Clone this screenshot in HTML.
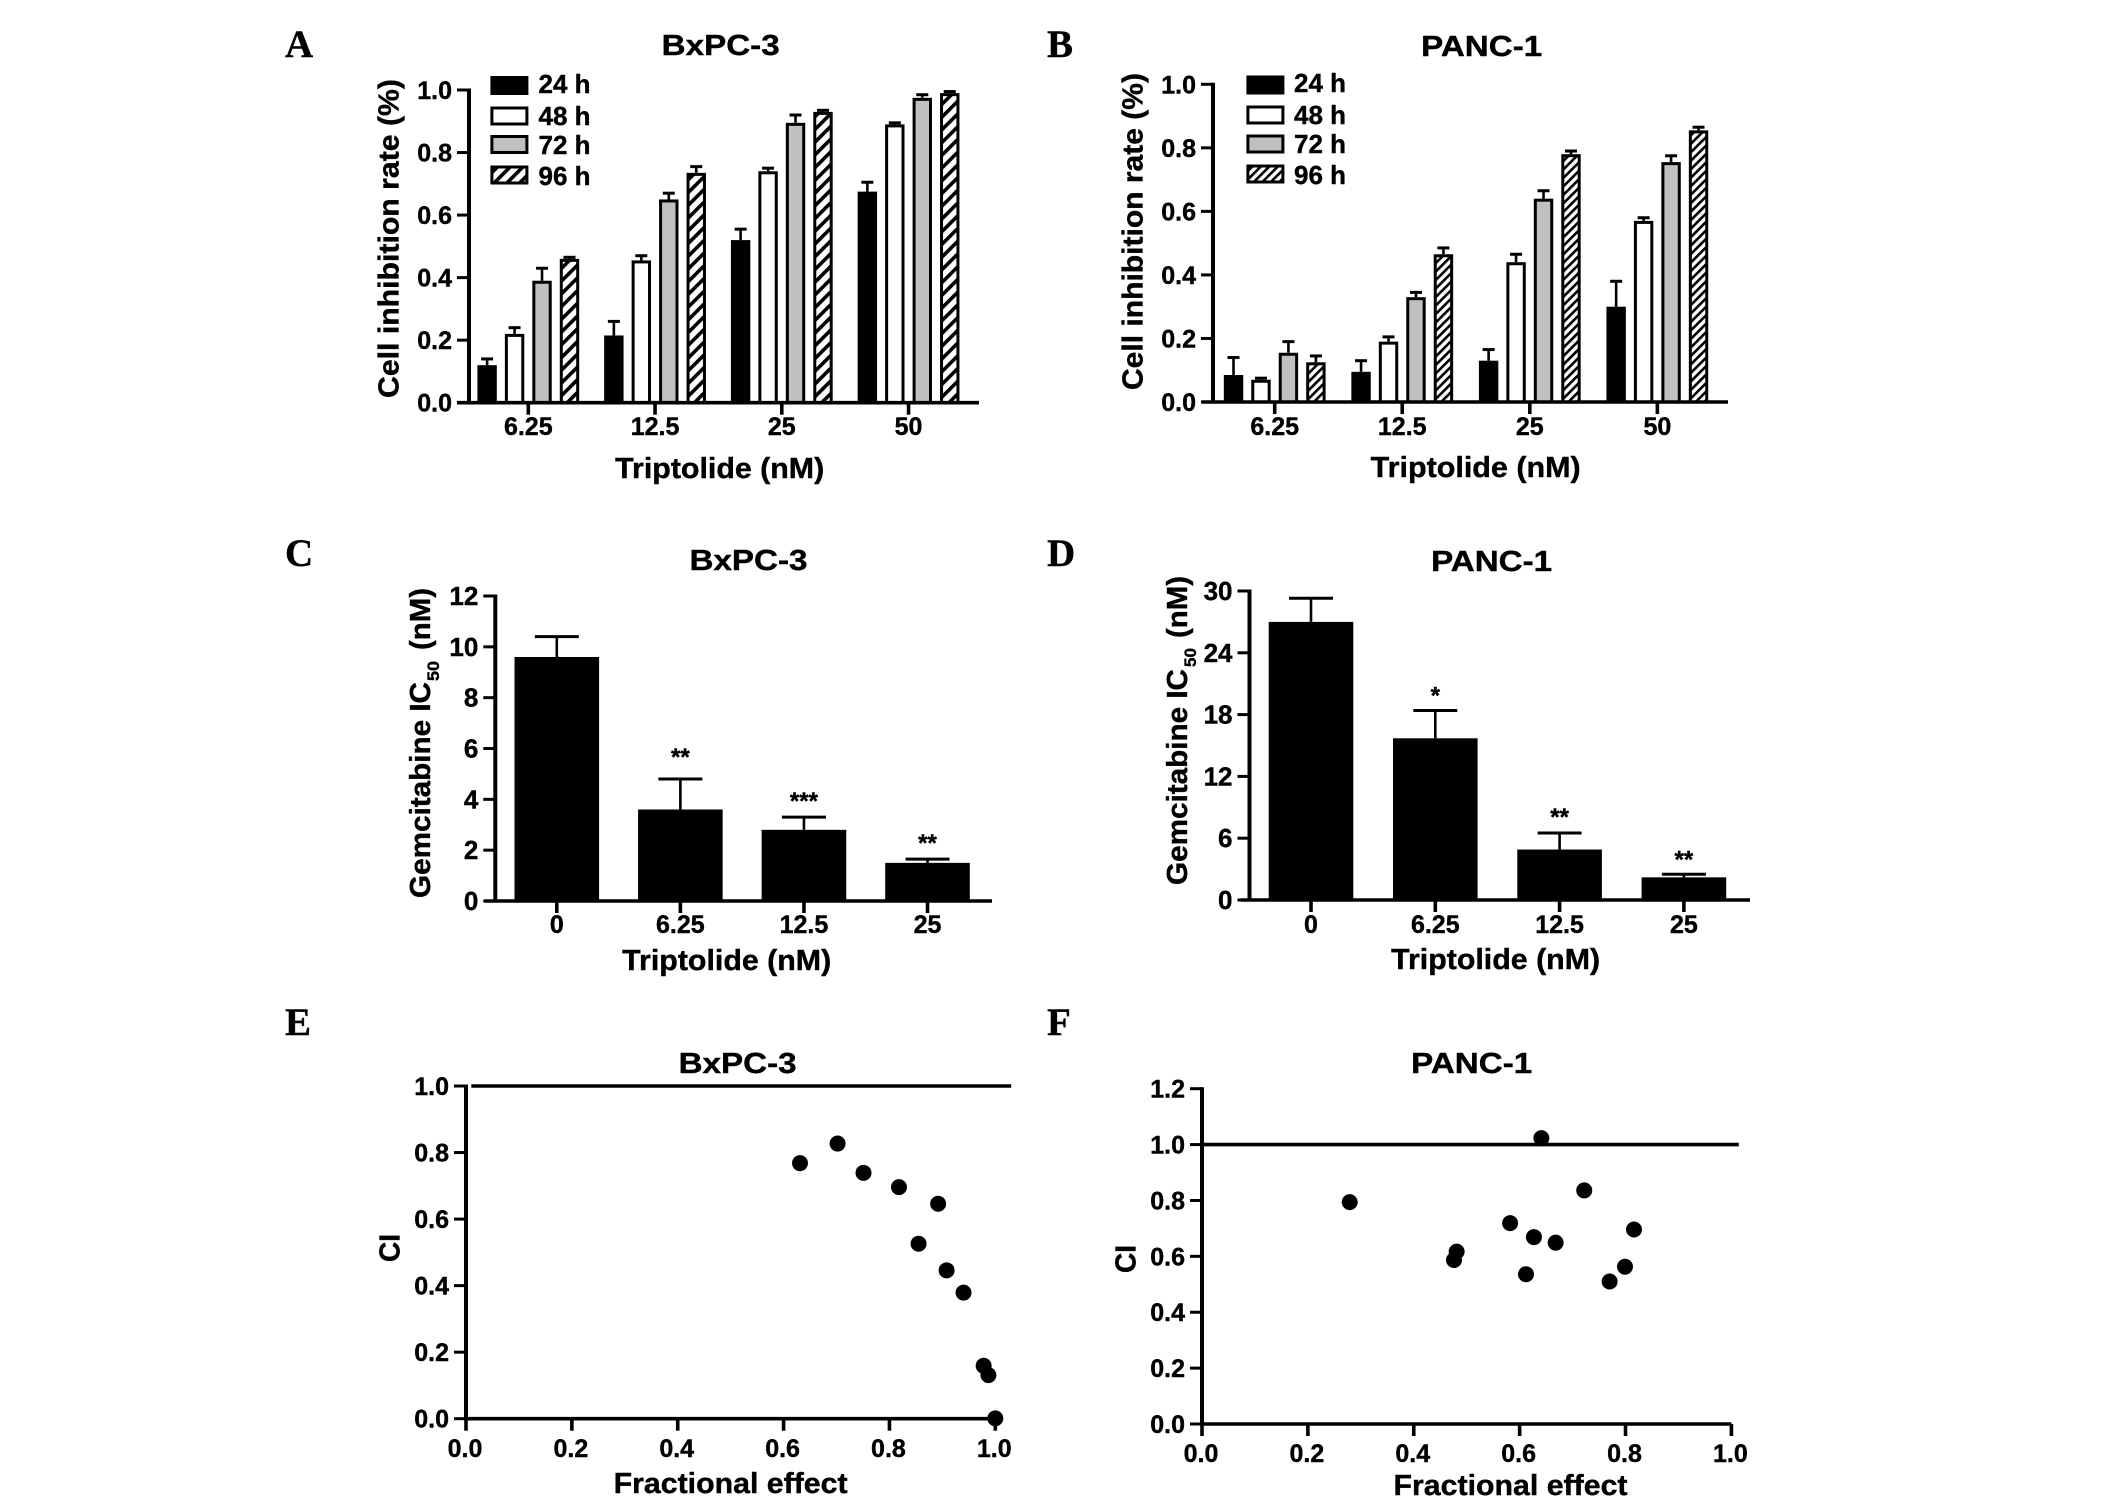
<!DOCTYPE html>
<html lang="en">
<head>
<meta charset="utf-8">
<title>Triptolide and gemcitabine in BxPC-3 and PANC-1 cells</title>
<style>
html,body{margin:0;padding:0;background:#fff;}
svg{display:block;}
text{font-family:"Liberation Sans",sans-serif;font-weight:700;fill:#000;stroke:#000;stroke-width:0.4px;}
.letter{font-family:"Liberation Serif",serif;font-size:39px;}
.title{font-size:29px;}
.axis-title{font-size:29px;}
.legend-text{font-size:26px;}
</style>
</head>
<body>
<svg id="fig" xmlns="http://www.w3.org/2000/svg" width="2126" height="1503" viewBox="0 0 2126 1503">
<defs>
<pattern id="hatchA" width="9" height="9" patternUnits="userSpaceOnUse" patternTransform="rotate(45)"><rect width="9" height="9" fill="#fff"/><rect width="3.6" height="9" fill="#000"/></pattern>
<pattern id="hatchB" width="6" height="6" patternUnits="userSpaceOnUse" patternTransform="rotate(45)"><rect width="6" height="6" fill="#fff"/><rect width="2.6" height="6" fill="#000"/></pattern>
</defs>
<rect width="2126" height="1503" fill="#fff"/>

<text class="letter" x="285" y="57">A</text>
<text class="letter" x="1047" y="57">B</text>
<text class="letter" x="285" y="566">C</text>
<text class="letter" x="1047" y="566">D</text>
<text class="letter" x="285" y="1035">E</text>
<text class="letter" x="1047" y="1035">F</text>

<text class="title" x="720.7" y="55" text-anchor="middle" textLength="118" lengthAdjust="spacingAndGlyphs">BxPC-3</text>
<text class="title" x="1481.7" y="56" text-anchor="middle" textLength="121" lengthAdjust="spacingAndGlyphs">PANC-1</text>
<text class="title" x="748.5" y="570" text-anchor="middle" textLength="118" lengthAdjust="spacingAndGlyphs">BxPC-3</text>
<text class="title" x="1491.6" y="571" text-anchor="middle" textLength="121" lengthAdjust="spacingAndGlyphs">PANC-1</text>
<text class="title" x="737.6" y="1073" text-anchor="middle" textLength="118" lengthAdjust="spacingAndGlyphs">BxPC-3</text>
<text class="title" x="1471.7" y="1073" text-anchor="middle" textLength="121" lengthAdjust="spacingAndGlyphs">PANC-1</text>

<text class="axis-title" x="719.7" y="478" text-anchor="middle" textLength="209" lengthAdjust="spacingAndGlyphs">Triptolide (nM)</text>
<text class="axis-title" x="1475.7" y="477" text-anchor="middle" textLength="210" lengthAdjust="spacingAndGlyphs">Triptolide (nM)</text>
<text class="axis-title" x="726.7" y="970" text-anchor="middle" textLength="209" lengthAdjust="spacingAndGlyphs">Triptolide (nM)</text>
<text class="axis-title" x="1495.6" y="969" text-anchor="middle" textLength="209" lengthAdjust="spacingAndGlyphs">Triptolide (nM)</text>
<text class="axis-title" x="730.6" y="1493" text-anchor="middle" textLength="234" lengthAdjust="spacingAndGlyphs">Fractional effect</text>
<text class="axis-title" x="1510.5" y="1495" text-anchor="middle" textLength="234" lengthAdjust="spacingAndGlyphs">Fractional effect</text>

<text class="axis-title" transform="translate(398.3,398) rotate(-90)" textLength="319" lengthAdjust="spacingAndGlyphs">Cell inhibition rate (%)</text>
<text class="axis-title" transform="translate(1142.4,390) rotate(-90)" textLength="317" lengthAdjust="spacingAndGlyphs">Cell inhibition rate (%)</text>

<g>
<text class="axis-title" transform="translate(430.2,898) rotate(-90)" textLength="216" lengthAdjust="spacingAndGlyphs">Gemcitabine IC</text>
<text transform="translate(439.1,681) rotate(-90)" font-size="17" textLength="20" lengthAdjust="spacingAndGlyphs">50</text>
<text class="axis-title" transform="translate(430.2,650) rotate(-90)" textLength="62" lengthAdjust="spacingAndGlyphs">(nM)</text>
</g>
<g>
<text class="axis-title" transform="translate(1187.2,885) rotate(-90)" textLength="216" lengthAdjust="spacingAndGlyphs">Gemcitabine IC</text>
<text transform="translate(1196.1,667) rotate(-90)" font-size="17" textLength="19" lengthAdjust="spacingAndGlyphs">50</text>
<text class="axis-title" transform="translate(1187.2,638) rotate(-90)" textLength="62" lengthAdjust="spacingAndGlyphs">(nM)</text>
</g>
<text class="axis-title" transform="translate(399.3,1262) rotate(-90)" textLength="28" lengthAdjust="spacingAndGlyphs">CI</text>
<text class="axis-title" transform="translate(1135.5,1273) rotate(-90)" textLength="28" lengthAdjust="spacingAndGlyphs">CI</text>

<g>
<rect x="491.9" y="77.5" width="35" height="16" fill="#000" stroke="#000" stroke-width="3"/>
<text class="legend-text" x="538.5" y="93">24 h</text>
<rect x="491.9" y="108" width="35" height="16" fill="#fff" stroke="#000" stroke-width="3"/>
<text class="legend-text" x="538.5" y="125">48 h</text>
<rect x="491.9" y="136.5" width="35" height="16" fill="#c0c0c0" stroke="#000" stroke-width="3"/>
<text class="legend-text" x="538.5" y="154">72 h</text>
<rect x="491.9" y="167" width="35" height="16" fill="url(#hatchA)" stroke="#000" stroke-width="3"/>
<text class="legend-text" x="538.5" y="185">96 h</text>
</g>
<g>
<rect x="1247.9" y="77" width="35" height="16" fill="#000" stroke="#000" stroke-width="3"/>
<text class="legend-text" x="1294" y="92">24 h</text>
<rect x="1247.9" y="107" width="35" height="16" fill="#fff" stroke="#000" stroke-width="3"/>
<text class="legend-text" x="1294" y="124">48 h</text>
<rect x="1247.9" y="136" width="35" height="16" fill="#c0c0c0" stroke="#000" stroke-width="3"/>
<text class="legend-text" x="1294" y="153">72 h</text>
<rect x="1247.9" y="166" width="35" height="16" fill="url(#hatchB)" stroke="#000" stroke-width="3"/>
<text class="legend-text" x="1294" y="184">96 h</text>
</g>
</svg>

<script>
// ---- chart data ----
const inhibitionDoses = ['6.25', '12.5', '25', '50'];
const gemDoses = ['0', '6.25', '12.5', '25'];
const seriesKeys = ['24h', '48h', '72h', '96h'];
const rateTicks = [0, 0.2, 0.4, 0.6, 0.8, 1.0];
const cTicks = [0, 2, 4, 6, 8, 10, 12];
const dTicks = [0, 6, 12, 18, 24, 30];
const eTicks = [0, 0.2, 0.4, 0.6, 0.8, 1.0];
const fTicks = [0, 0.2, 0.4, 0.6, 0.8, 1.0, 1.2];
const effectTicks = [0, 0.2, 0.4, 0.6, 0.8, 1.0];

const a24 = [0.12, 0.215, 0.52, 0.675];
const a48 = [0.22, 0.455, 0.74, 0.89];
const a72 = [0.39, 0.65, 0.895, 0.975];
const a96 = [0.46, 0.735, 0.93, 0.99];
const a24Err = [0.02, 0.045, 0.035, 0.03];
const a48Err = [0.02, 0.015, 0.01, 0.005];
const a72Err = [0.04, 0.02, 0.025, 0.01];
const a96Err = [0.005, 0.02, 0.005, 0.005];

const b24 = [0.085, 0.095, 0.13, 0.30];
const b48 = [0.07, 0.19, 0.44, 0.57];
const b72 = [0.155, 0.33, 0.64, 0.755];
const b96 = [0.125, 0.465, 0.78, 0.855];
const b24Err = [0.055, 0.035, 0.035, 0.08];
const b48Err = [0.005, 0.015, 0.025, 0.01];
const b72Err = [0.035, 0.015, 0.025, 0.02];
const b96Err = [0.02, 0.02, 0.01, 0.01];

const cValues = [9.6, 3.6, 2.8, 1.5];
const cErr = [0.8, 1.2, 0.5, 0.15];
const cStars = ['', '**', '***', '**'];
const dValues = [27, 15.7, 4.9, 2.2];
const dErr = [2.3, 2.7, 1.6, 0.3];
const dStars = ['', '*', '**', '**'];

const eEffect = [0.631, 0.702, 0.751, 0.818, 0.892, 0.855, 0.908, 0.94, 0.978, 0.987, 1.0];
const eCI = [0.768, 0.827, 0.739, 0.696, 0.646, 0.526, 0.446, 0.379, 0.159, 0.131, 0.001];
const fEffect = [0.279, 0.481, 0.476, 0.582, 0.627, 0.668, 0.612, 0.641, 0.722, 0.799, 0.770, 0.816];
const fCI = [0.794, 0.617, 0.587, 0.719, 0.669, 0.649, 0.536, 1.023, 0.836, 0.563, 0.510, 0.696];
const refLineCI = 1.0;

// ---- drawing helpers ----
const NS = 'http://www.w3.org/2000/svg';
const fig = document.getElementById('fig');

function mk(parent, tag, name, attrs, content) {
  const el = document.createElementNS(NS, tag);
  
  
  for (const k in attrs) el.setAttribute(k, attrs[k]);
  if (content !== undefined) el.textContent = content;
  parent.appendChild(el);
  return el;
}
function line(parent, name, x1, y1, x2, y2, w) {
  return mk(parent, 'line', name, {x1: x1, y1: y1, x2: x2, y2: y2, stroke: '#000', 'stroke-width': w});
}
function linearY(y0, yTop, max) {
  return function (v) { return y0 - (v / max) * (y0 - yTop); };
}
function drawYAxis(g, o, y) {
  line(g, 'y-axis-line', o.axisX, y(o.yTicks[o.yTicks.length - 1]) - 1.5, o.axisX, o.y0 + 1.5, 4);
  o.yTicks.forEach(function (t) {
    line(g, 'y-tick', o.axisX - 12, y(t), o.axisX, y(t), 3);
    mk(g, 'text', 'y-tick-label', {x: o.axisX - 17, y: y(t) + 9, 'text-anchor': 'end', 'font-size': o.yFont}, o.yFmt(t));
  });
}
function drawCategoryAxis(g, o, cats, tickX) {
  line(g, 'x-axis-line', o.xStart, o.y0, o.xEnd, o.y0, 3.6);
  cats.forEach(function (c, i) {
    const x = tickX(i);
    line(g, 'x-tick', x, o.y0, x, o.y0 + 12, 3.6);
    mk(g, 'text', 'x-tick-label', {x: x, y: o.labelY, 'text-anchor': 'middle', 'font-size': 25}, c);
  });
}

function groupedBars(o) {
  const g = mk(fig, 'g', o.name, {});
  const y = linearY(o.y0, o.yTop, 1);
  const tickX = function (i) { return o.tick0 + i * o.tickStep; };
  const fills = ['#000', '#fff', '#c0c0c0', o.hatch];
  o.series.forEach(function (vals, s) {
    vals.forEach(function (v, i) {
      const cx = tickX(i) + (s - 1.5) * 27.46;
      const top = y(v + o.errs[s][i]);
      line(g, 'error-stem-' + seriesKeys[s], cx, top, cx, y(v), 2.6);
      line(g, 'error-cap-' + seriesKeys[s], cx - 6, top, cx + 6, top, 3);
      mk(g, 'rect', 'bar-' + seriesKeys[s] + '-' + o.cats[i], {
        x: cx - 8.2, y: y(v) + 1.5, width: 16.4, height: Math.max(0, o.y0 - y(v) - 1.5),
        fill: fills[s], stroke: '#000', 'stroke-width': 3
      });
    });
  });
  drawYAxis(g, o, y);
  drawCategoryAxis(g, o, o.cats, tickX);
}

function singleBars(o) {
  const g = mk(fig, 'g', o.name, {});
  const y = linearY(o.y0, o.yTop, o.yMax);
  const tickX = function (i) { return o.tick0 + i * o.tickStep; };
  o.values.forEach(function (v, i) {
    const cx = tickX(i);
    const top = y(v + o.errs[i]);
    line(g, 'error-stem', cx, top, cx, y(v), 2.6);
    line(g, 'error-cap', cx - 22, top, cx + 22, top, 3);
    mk(g, 'rect', 'bar-' + o.cats[i], {x: cx - 42.3, y: y(v), width: 84.6, height: o.y0 - y(v), fill: '#000'});
    if (o.stars[i]) {
      mk(g, 'text', 'significance-stars', {x: cx, y: top - o.starGap[i] + 13, 'text-anchor': 'middle', 'font-size': 24}, o.stars[i]);
    }
  });
  drawYAxis(g, o, y);
  drawCategoryAxis(g, o, o.cats, tickX);
}

function scatter(o) {
  const g = mk(fig, 'g', o.name, {});
  const y = linearY(o.y0, o.yTop, o.yMax);
  const x = function (v) { return o.axisX + v * (o.xOne - o.axisX); };
  drawYAxis(g, o, y);
  line(g, 'x-axis-line', x(0), o.y0, x(1), o.y0, 3.6);
  effectTicks.forEach(function (t) {
    line(g, 'x-tick', x(t), o.y0, x(t), o.y0 + 12, 3.6);
    mk(g, 'text', 'x-tick-label', {x: x(t) - 1, y: o.labelY, 'text-anchor': 'middle', 'font-size': 25}, t.toFixed(1));
  });
  line(g, 'reference-line-ci-1', x(o.refFrom), y(refLineCI), x(o.refTo), y(refLineCI), 3.6);
  o.xs.forEach(function (v, i) {
    mk(g, 'ellipse', 'data-point', {cx: x(v), cy: y(o.ys[i]), rx: 8, ry: 8, fill: '#000'});
  });
}

const one = function (t) { return t.toFixed(1); };
const int = function (t) { return String(t); };

groupedBars({name: 'panel-a-chart', axisX: 469, y0: 402.7, yTop: 90, yTicks: rateTicks, yFmt: one, yFont: 25,
  xStart: 457, xEnd: 979, labelY: 435, tick0: 528.3, tickStep: 126.75, cats: inhibitionDoses, hatch: 'url(#hatchA)',
  series: [a24, a48, a72, a96], errs: [a24Err, a48Err, a72Err, a96Err]});
groupedBars({name: 'panel-b-chart', axisX: 1213, y0: 402, yTop: 84.3, yTicks: rateTicks, yFmt: one, yFont: 25,
  xStart: 1202, xEnd: 1728, labelY: 435, tick0: 1274.7, tickStep: 127.55, cats: inhibitionDoses, hatch: 'url(#hatchB)',
  series: [b24, b48, b72, b96], errs: [b24Err, b48Err, b72Err, b96Err]});
singleBars({name: 'panel-c-chart', axisX: 495.3, y0: 901, yTop: 596, yMax: 12, yTicks: cTicks, yFmt: int, yFont: 26,
  xStart: 484.9, xEnd: 992, labelY: 933, tick0: 556.8, tickStep: 123.57, cats: gemDoses,
  values: cValues, errs: cErr, stars: cStars, starGap: [0, 27, 21, 21]});
singleBars({name: 'panel-d-chart', axisX: 1249.5, y0: 900, yTop: 591, yMax: 30, yTicks: dTicks, yFmt: int, yFont: 26,
  xStart: 1240.9, xEnd: 1750, labelY: 933, tick0: 1311, tickStep: 124.3, cats: gemDoses,
  values: dValues, errs: dErr, stars: dStars, starGap: [0, 20, 21, 20]});
scatter({name: 'panel-e-chart', axisX: 466, xOne: 995.3, y0: 1418.7, yTop: 1086, yMax: 1, yTicks: eTicks, yFmt: one, yFont: 25,
  labelY: 1457, xs: eEffect, ys: eCI, refFrom: 0.01, refTo: 1.03});
scatter({name: 'panel-f-chart', axisX: 1202, xOne: 1731.4, y0: 1424, yTop: 1088.7, yMax: 1.2, yTicks: fTicks, yFmt: one, yFont: 25,
  labelY: 1462, xs: fEffect, ys: fCI, refFrom: 0, refTo: 1.014});
</script>
</body>
</html>
